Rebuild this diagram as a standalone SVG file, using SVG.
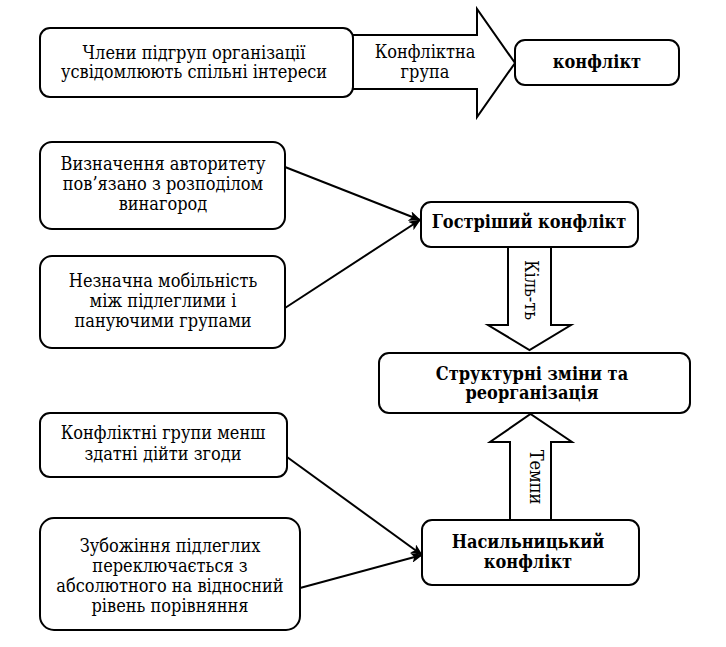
<svg xmlns="http://www.w3.org/2000/svg" width="726" height="647" viewBox="0 0 726 647">
<defs>
<style>
.box{fill:#fff;stroke:#000;stroke-width:2}
.t{font-family:"DejaVu Serif Condensed","DejaVu Serif",serif;font-stretch:condensed;font-size:18px;text-anchor:middle;fill:#000}
.b{font-weight:bold}
.ln{stroke:#000;stroke-width:2;fill:none}
.blk{fill:#fff;stroke:#000;stroke-width:2;stroke-linejoin:miter}
</style>
<marker id="ah" viewBox="0 0 12 10" refX="11" refY="5" markerWidth="12" markerHeight="10" markerUnits="userSpaceOnUse" orient="auto">
<path d="M0,0 L12,5 L0,10 L3,5 z" fill="#000"/>
</marker>
</defs>
<rect width="726" height="647" fill="#fff"/>

<g id="connectors">
<polygon class="blk" points="352,35 477,35 477,9 515,63 477,117 477,89 352,89"/>
<text class="t" x="425" y="58">Конфліктна</text>
<text class="t" x="425" y="78">група</text>
<polygon class="blk" points="508,247 551,247 551,325 571,325 529.5,350 488,325 508,325"/>
<text class="t" transform="translate(531,290) rotate(90)" y="6">Кіль-ть</text>
<polygon class="blk" points="510,520 551,520 551,442 572,442 530.5,414 490,442 510,442"/>
<text class="t" transform="translate(536,477) rotate(90)" y="6">Темпи</text>
<line class="ln" x1="285" y1="167" x2="420" y2="220" marker-end="url(#ah)"/>
<line class="ln" x1="285" y1="308" x2="420" y2="220" marker-end="url(#ah)"/>
<line class="ln" x1="287" y1="457" x2="422" y2="555" marker-end="url(#ah)"/>
<line class="ln" x1="300" y1="588" x2="422" y2="555" marker-end="url(#ah)"/>
</g>

<g id="n1">
<rect class="box" x="40" y="28" width="313" height="69" rx="10"/>
<text class="t" x="194" y="59">Члени підгруп організації</text>
<text class="t" x="194" y="78">усвідомлюють спільні інтереси</text>
</g>
<g id="n2">
<rect class="box" x="515" y="40" width="164" height="45" rx="10"/>
<text class="t b" x="597" y="68">конфлікт</text>
</g>
<g id="n3">
<rect class="box" x="40" y="142" width="245" height="87" rx="12"/>
<text class="t" x="163" y="170">Визначення авторитету</text>
<text class="t" x="163" y="190">пов’язано з розподілом</text>
<text class="t" x="163" y="210">винагород</text>
</g>
<g id="n4">
<rect class="box" x="40" y="256" width="245" height="92" rx="12"/>
<text class="t" x="163" y="287">Незначна мобільність</text>
<text class="t" x="163" y="307">між підлеглими і</text>
<text class="t" x="163" y="327">пануючими групами</text>
</g>
<g id="n5">
<rect class="box" x="421" y="202" width="217" height="45" rx="10"/>
<text class="t b" x="529" y="228">Гостріший конфлікт</text>
</g>
<g id="n6">
<rect class="box" x="379" y="353" width="311" height="60" rx="10"/>
<text class="t b" x="532" y="380">Структурні зміни та</text>
<text class="t b" x="532" y="399">реорганізація</text>
</g>
<g id="n7">
<rect class="box" x="40" y="413" width="247" height="64" rx="10"/>
<text class="t" x="163" y="439">Конфліктні групи менш</text>
<text class="t" x="163" y="460">здатні дійти згоди</text>
</g>
<g id="n8">
<rect class="box" x="40" y="518" width="260" height="112" rx="14"/>
<text class="t" x="170" y="552">Зубожіння підлеглих</text>
<text class="t" x="170" y="572">переключається з</text>
<text class="t" x="170" y="592">абсолютного на відносний</text>
<text class="t" x="170" y="612">рівень порівняння</text>
</g>
<g id="n9">
<rect class="box" x="422" y="520" width="217" height="65" rx="10"/>
<text class="t b" x="528" y="548">Насильницький</text>
<text class="t b" x="528" y="568">конфлікт</text>
</g>
</svg>
